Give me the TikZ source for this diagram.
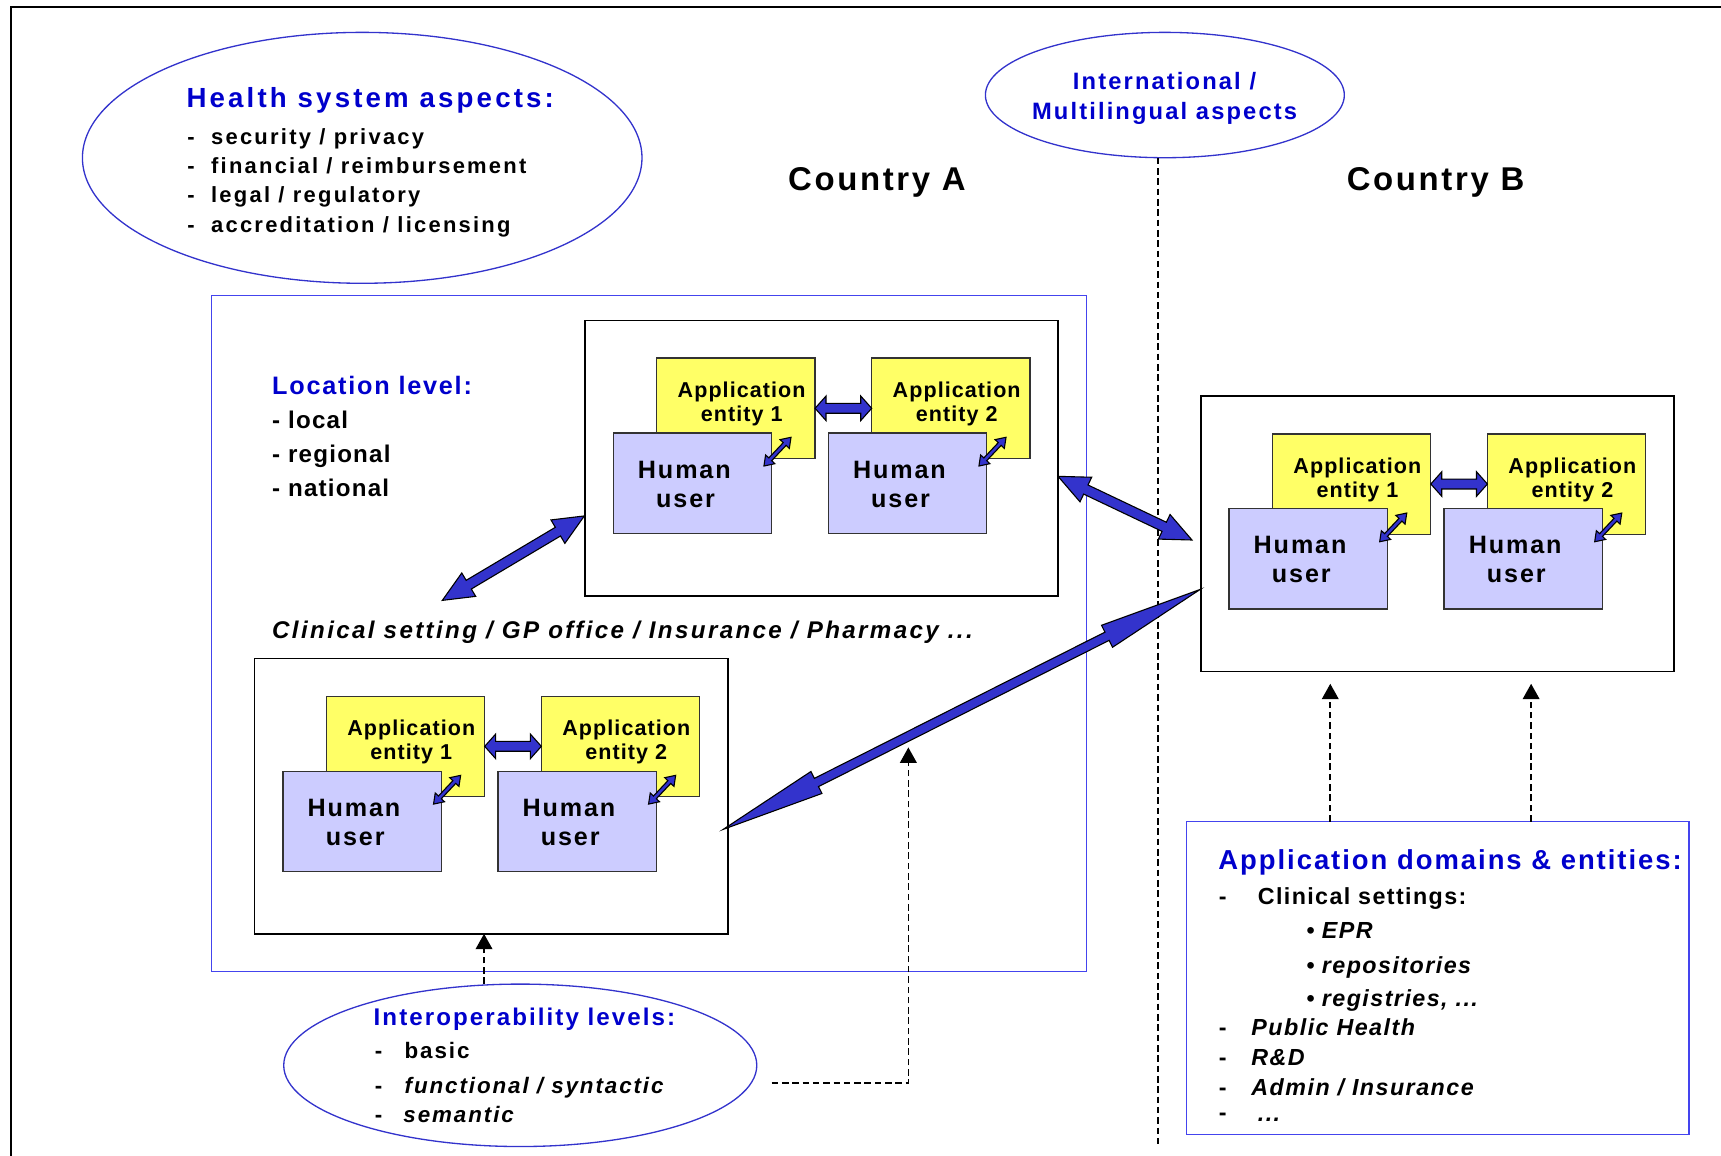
\documentclass[tikz,border=0pt]{standalone}
\usepackage{fontspec}
\setmainfont{Liberation Sans}
\usetikzlibrary{shapes.geometric,calc,arrows.meta}
\definecolor{txtblue}{HTML}{0000CC}
\definecolor{lineblue}{HTML}{3333CC}
\definecolor{rectblue}{HTML}{4444EE}
\definecolor{arrblue}{HTML}{3333CC}
\definecolor{appyel}{HTML}{FFFF66}
\definecolor{hulav}{HTML}{CCCCFF}
\newcommand\fnt[3]{\fontsize{#1}{#2}\selectfont\addfontfeature{LetterSpace=#3}}
\tikzset{
  txt/.style={inner sep=0pt, outer sep=0pt, anchor=base west},
  ctxt/.style={inner sep=0pt, outer sep=0pt, anchor=base},
  htitle/.style={txt, text=txtblue, font={\bfseries\fnt{12.6}{15}{11.4}}},
  hitem/.style={txt, font={\bfseries\fnt{10}{12}{10.2}}},
  intltxt/.style={ctxt, text=txtblue, font={\bfseries\fnt{10.8}{13}{9}}},
  countrytxt/.style={ctxt, font={\bfseries\fnt{15}{18}{8}}},
  loctitle/.style={txt, text=txtblue, font={\bfseries\fnt{11.5}{14}{7}}},
  locitem/.style={txt, font={\bfseries\fnt{11}{13}{5}}},
  clintxt/.style={txt, font={\bfseries\itshape\fnt{11}{13}{9.8}}},
  apptxt/.style={ctxt, font={\bfseries\fnt{9.8}{11}{5}}},
  hutxt/.style={ctxt, font={\bfseries\fnt{11.45}{13}{7.5}}},
  iotitle/.style={txt, text=txtblue, font={\bfseries\fnt{11}{13}{8.5}}},
  ioitem/.style={txt, font={\bfseries\fnt{10.2}{12}{8.5}}},
  ioitemit/.style={txt, font={\bfseries\itshape\fnt{10.2}{12}{8.5}}},
  adtitle/.style={txt, text=txtblue, font={\bfseries\fnt{12.5}{15}{7.2}}},
  aditem/.style={txt, font={\bfseries\fnt{10.6}{13}{6}}},
  aditemit/.style={txt, font={\bfseries\itshape\fnt{10.6}{13}{6.3}}},
  ell/.style={ellipse, draw=lineblue, line width=0.6pt, inner sep=0pt, outer sep=0pt},
  bluebox/.style={rectangle, draw=rectblue, line width=0.55pt, inner sep=0pt, outer sep=0pt, anchor=north west},
  setbox/.style={rectangle, draw=black, fill=white, line width=0.75pt, inner sep=0pt, outer sep=0pt,
    minimum width=215.6pt, minimum height=125.4pt, anchor=north west},
  appbox/.style={rectangle, draw=black!80, fill=appyel, line width=0.6pt, inner sep=0pt, outer sep=0pt,
    minimum width=72.1pt, minimum height=45.7pt, anchor=north west},
  hubox/.style={rectangle, draw=black!80, fill=hulav, line width=0.6pt, inner sep=0pt, outer sep=0pt,
    minimum width=72.1pt, minimum height=45.7pt, anchor=north west},
  fatarr/.style={fill=arrblue, draw=black, line width=0.5pt, line join=miter},
  dashline/.style={draw=black, line width=0.75pt, dash pattern=on 3pt off 1.7pt},
  dasharr/.style={dashline, -{Triangle[length=7pt,width=7.6pt]}},
}
% double-headed block arrow: from, to, shaft half-width, head half-width, head length
\newcommand\fatarrow[5]{%
  \filldraw[fatarr] let \p1=(#1), \p2=(#2), \n1={atan2(\y2-\y1,\x2-\x1)}, \n2={veclen(\x2-\x1,\y2-\y1)} in
    [shift={(\p1)}, rotate=\n1]
    (0pt,0pt) -- (#5,#4) -- (#5,#3) -- ({\n2*1pt-#5},#3) -- ({\n2*1pt-#5},#4) -- ({\n2*1pt},0pt)
    -- ({\n2*1pt-#5},-#4) -- ({\n2*1pt-#5},-#3) -- (#5,-#3) -- (#5,-#4) -- cycle;
}
% one setting box with two application entities and two human users
\newcommand\settingbox[3]{%
  \node[setbox] (#1) at (#2,#3) {};
  \node[appbox] (#1-a1) at ($(#1.north west)+(65.3,34.3)$) {};
  \node[appbox] (#1-a2) at ($(#1.north west)+(261.2,34.3)$) {};
  \node[apptxt] (#1-a1l1) at ($(#1-a1.north west)+(77.4,35.9)$) {Application};
  \node[apptxt] (#1-a1l2) at ($(#1-a1.north west)+(77.4,58)$) {entity 1};
  \node[apptxt] (#1-a2l1) at ($(#1-a2.north west)+(77.4,35.9)$) {Application};
  \node[apptxt] (#1-a2l2) at ($(#1-a2.north west)+(77.4,58)$) {entity 2};
  \node[hubox] (#1-h1) at ($(#1.north west)+(25.8,102.6)$) {};
  \node[hubox] (#1-h2) at ($(#1.north west)+(221.7,102.6)$) {};
  \node[hutxt] (#1-h1l1) at ($(#1-h1.north west)+(64.7,41)$) {Human};
  \node[hutxt] (#1-h1l2) at ($(#1-h1.north west)+(65.8,67.5)$) {user};
  \node[hutxt] (#1-h2l1) at ($(#1-h2.north west)+(64.7,41)$) {Human};
  \node[hutxt] (#1-h2l2) at ($(#1-h2.north west)+(65.8,67.5)$) {user};
  \coordinate (#1-ha) at ($(#1.north west)+(209.6,80)$);
  \coordinate (#1-hb) at ($(#1.north west)+(261.2,80)$);
  \fatarrow{#1-ha}{#1-hb}{2.25pt}{5.6pt}{5pt}
  \coordinate (#1-s1a) at ($(#1.north west)+(163,132.6)$);
  \coordinate (#1-s1b) at ($(#1.north west)+(187.7,106.4)$);
  \coordinate (#1-s2a) at ($(#1.north west)+(358.9,132.6)$);
  \coordinate (#1-s2b) at ($(#1.north west)+(383.6,106.4)$);
  \fatarrow{#1-s1a}{#1-s1b}{0.9pt}{2.9pt}{4.2pt}
  \fatarrow{#1-s2a}{#1-s2b}{0.9pt}{2.9pt}{4.2pt}
}
\begin{document}
\begin{tikzpicture}[x=0.5pt, y=-0.5pt]
\useasboundingbox (0,0) rectangle (1568,1053);
% outer frame (only top and left edges visible)
\draw[line width=0.8pt] (10,1053) -- (10,6.7) -- (1568,6.7);

% ellipses
\node[ell, minimum width=254.9pt, minimum height=114.3pt] (health) at (330,143.8) {};
\node[ell, minimum width=163.5pt, minimum height=57.1pt] (intl) at (1061.3,86.6) {};
\node[ell, minimum width=215.5pt, minimum height=74pt] (interop) at (474,970.6) {};

% health system text
\node[htitle] (h-t) at (170,98.4) {Health system aspects:};
\node[hitem] (h-d1) at (170.8,131.5) {-};
\node[hitem] (h-i1) at (192.4,131.5) {security / privacy};
\node[hitem] (h-d2) at (170.8,158) {-};
\node[hitem] (h-i2) at (192.4,158) {financial / reimbursement};
\node[hitem] (h-d3) at (170.8,184.7) {-};
\node[hitem] (h-i3) at (192.4,184.7) {legal / regulatory};
\node[hitem] (h-d4) at (170.8,212) {-};
\node[hitem] (h-i4) at (192.4,212) {accreditation / licensing};

% international
\node[intltxt] (intl-l1) at (1061,82) {International /};
\node[intltxt] (intl-l2) at (1061,109.3) {Multilingual aspects};
\coordinate (il) at (1055,1045);
\draw[dashline] (intl.south -| il) -- (il);

% countries
\node[countrytxt] (ca) at (799,173.5) {Country A};
\node[countrytxt] (cb) at (1308,174) {Country B};

% country A region
\node[bluebox, minimum width=398.5pt, minimum height=308pt] (regA) at (193,269) {};
\node[loctitle] (loc-t) at (248,359) {Location level:};
\node[locitem] (loc-1) at (248,390.7) {- local};
\node[locitem] (loc-2) at (248,421.7) {- regional};
\node[locitem] (loc-3) at (248,452.7) {- national};
\node[clintxt] (clin) at (248,581.7) {Clinical setting / GP office / Insurance / Pharmacy ...};

\settingbox{top}{533}{292}
\settingbox{bot}{232}{600}
\settingbox{cbb}{1094}{361}

% application domains box
\node[bluebox, minimum width=228.9pt, minimum height=142.45pt] (appdom) at (1081,748.6) {};
\node[adtitle] (ad-t) at (1110,792.3) {Application domains \& entities:};
\node[aditem] (ad-d1) at (1110.6,824.5) {-};
\node[aditem] (ad-i1) at (1146,824.5) {Clinical settings:};
\node[aditem] (ad-b1) at (1190.5,854.8) {•};
\node[aditemit] (ad-s1) at (1204.3,854.8) {EPR};
\node[aditem] (ad-b2) at (1190.5,886.7) {•};
\node[aditemit] (ad-s2) at (1204.3,886.7) {repositories};
\node[aditem] (ad-b3) at (1190.5,917) {•};
\node[aditemit] (ad-s3) at (1204.3,917) {registries, ...};
\node[aditem] (ad-d2) at (1110.6,943.8) {-};
\node[aditemit] (ad-i2) at (1140.2,943.8) {Public Health};
\node[aditem] (ad-d3) at (1110.6,970.8) {-};
\node[aditemit] (ad-i3) at (1140.2,970.8) {R\&D};
\node[aditem] (ad-d4) at (1110.6,998) {-};
\node[aditemit] (ad-i4) at (1140.2,998) {Admin / Insurance};
\node[aditem] (ad-d5) at (1110.6,1021) {-};
\node[aditemit] (ad-i5) at (1146,1022) {...};

% interoperability text
\node[iotitle] (io-t) at (340.5,934.6) {Interoperability levels:};
\node[ioitem] (io-d1) at (341.5,964.3) {-};
\node[ioitem] (io-i1) at (368.7,964.3) {basic};
\node[ioitem] (io-d2) at (341.5,996.5) {-};
\node[ioitemit] (io-i2) at (368.7,996.5) {functional / syntactic};
\node[ioitem] (io-d3) at (341.5,1022.4) {-};
\node[ioitemit] (io-i3) at (367.6,1022.4) {semantic};

% dashed arrows
\coordinate (d1s) at (441,896.5);
\draw[dasharr] (d1s) -- (d1s |- bot.south);
\coordinate (d2s) at (703,987);
\coordinate (d2e) at (827.6,681);
\draw[dasharr] (d2s) -- (d2s -| d2e) -- (d2e);
\coordinate (d3e) at (1212,623);
\coordinate (d4e) at (1395,623);
\draw[dasharr] (d3e |- appdom.north) -- (d3e);
\draw[dasharr] (d4e |- appdom.north) -- (d4e);

% big block arrows between settings
\coordinate (A1a) at (403,547);
\coordinate (A1b) at (532.5,470);
\coordinate (A2a) at (964,434);
\coordinate (A2b) at (1086,492);
\coordinate (A3a) at (659,755.6);
\coordinate (A3b) at (1093.5,537);
\fatarrow{A1a}{A1b}{2.3pt}{6.2pt}{14pt}
\fatarrow{A2a}{A2b}{2.3pt}{6.2pt}{14pt}
\fatarrow{A3a}{A3b}{2.1pt}{5.6pt}{47.5pt}
\end{tikzpicture}
\end{document}
